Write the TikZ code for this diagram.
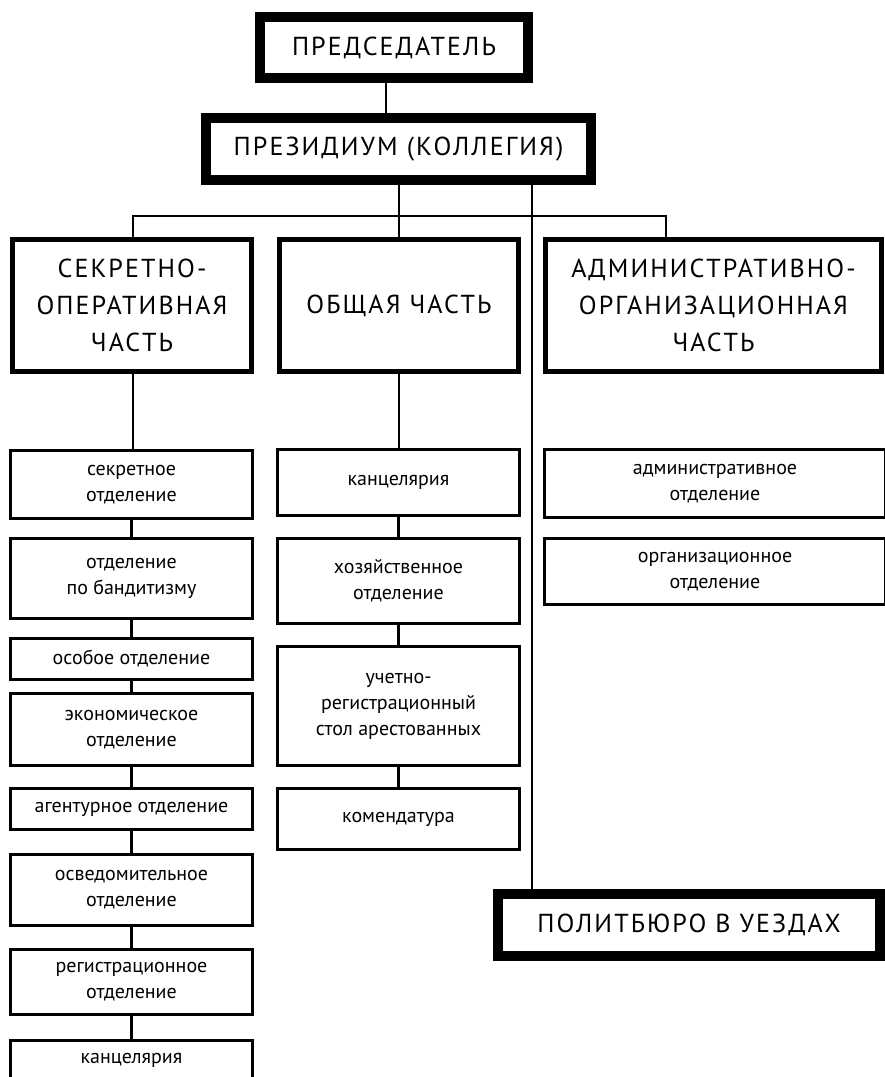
\documentclass[tikz,border=0pt]{standalone}
\usepackage{fontspec}
\setmainfont{PT Sans}
\newfontfamily\headfont[LetterSpace=8]{PT Sans}
\begin{document}
\begin{tikzpicture}[x=1pt,y=-1pt,
  box/.style={draw,inner sep=0pt,align=center,fill=white},
  thickbox/.style={box,line width=10pt,font=\headfont\fontsize{26}{37}\selectfont},
  midbox/.style={box,line width=5pt,font=\headfont\fontsize{26}{37}\selectfont},
  subbox/.style={box,line width=3pt,font=\fontsize{20}{26}\selectfont},
  conn/.style={line width=2pt},
  subconn/.style={line width=3pt}]
\useasboundingbox (0,0) rectangle (885,1077);
\clip (0,0) rectangle (885,1077);
% top
\node[thickbox,minimum width=268pt,minimum height=61pt] (pred) at (394,47.5) {ПРЕДСЕДАТЕЛЬ};
\node[thickbox,minimum width=385pt,minimum height=62pt] (prez) at (398.5,149) {ПРЕЗИДИУМ (КОЛЛЕГИЯ)};
% parts
\node[midbox,minimum width=239pt,minimum height=132pt] (so) at (132,305.5) {СЕКРЕТНО-\\ОПЕРАТИВНАЯ\\ЧАСТЬ};
\node[midbox,minimum width=239pt,minimum height=132pt] (ob) at (399,305.5) {ОБЩАЯ ЧАСТЬ};
\node[midbox,minimum width=336pt,minimum height=132pt] (ao) at (713.5,305.5) {АДМИНИСТРАТИВНО-\\ОРГАНИЗАЦИОННАЯ\\ЧАСТЬ};
% left column
\node[subbox,minimum width=242pt,minimum height=68pt] (s1) at (131.5,484.5) {секретное\\отделение};
\node[subbox,minimum width=242pt,minimum height=80pt] (s2) at (131.5,578.5) {отделение\\по бандитизму};
\node[subbox,minimum width=242pt,minimum height=41pt] (s3) at (131.5,659) {особое отделение};
\node[subbox,minimum width=242pt,minimum height=72pt] (s4) at (131.5,729.5) {экономическое\\отделение};
\node[subbox,minimum width=242pt,minimum height=41pt] (s5) at (131.5,809) {агентурное отделение};
\node[subbox,minimum width=242pt,minimum height=71pt] (s6) at (131.5,890) {осведомительное\\отделение};
\node[subbox,minimum width=242pt,minimum height=65pt] (s7) at (131.5,982) {регистрационное\\отделение};
\node[subbox,minimum width=242pt,minimum height=0pt,text height=23.5pt,text depth=70pt,anchor=north] (s8) at (131.5,1038.5) {канцелярия};
% middle column
\node[subbox,minimum width=242pt,minimum height=66pt] (m1) at (398.5,482.5) {канцелярия};
\node[subbox,minimum width=242pt,minimum height=85pt] (m2) at (398.5,581) {хозяйственное\\отделение};
\node[subbox,minimum width=242pt,minimum height=119pt] (m3) at (398.5,706) {учетно-\\регистрационный\\стол арестованных};
\node[subbox,minimum width=242pt,minimum height=61pt] (m4) at (398.5,819) {комендатура};
% right column
\node[subbox,minimum width=341pt,minimum height=68pt] (r1) at (715,483.5) {административное\\отделение};
\node[subbox,minimum width=341pt,minimum height=66pt] (r2) at (715,571.5) {организационное\\отделение};
% politburo
\node[thickbox,minimum width=382pt,minimum height=62pt] (pb) at (689,925) {ПОЛИТБЮРО В УЕЗДАХ};
% connectors
\coordinate (busL) at (133,216);
\coordinate (busR) at (666,216);
\draw[conn] ([xshift=-8pt]pred.south) -- ([xshift=-8pt]pred.south |- prez.north);
\draw[conn] (so.north -| busL) -- (busL) -- (busR) -- (busR |- ao.north);
\draw[conn] (prez.south -| ob.north) -- (ob.north);
\draw[conn] ([xshift=133.5pt]prez.south) -- ([xshift=133.5pt]prez.south |- pb.north);
\draw[conn] (so.south -| busL) -- (busL |- s1.north);
\draw[conn] (ob.south) -- (ob.south |- m1.north);
\draw[subconn] (s1.south) -- (s2.north);
\draw[subconn] (s2.south) -- (s3.north);
\draw[subconn] (s3.south) -- (s4.north);
\draw[subconn] (s4.south) -- (s5.north);
\draw[subconn] (s5.south) -- (s6.north);
\draw[subconn] (s6.south) -- (s7.north);
\draw[subconn] (s7.south) -- (s8.north);
\draw[subconn] (m1.south) -- (m2.north);
\draw[subconn] (m2.south) -- (m3.north);
\draw[subconn] (m3.south) -- (m4.north);
\end{tikzpicture}
\end{document}
